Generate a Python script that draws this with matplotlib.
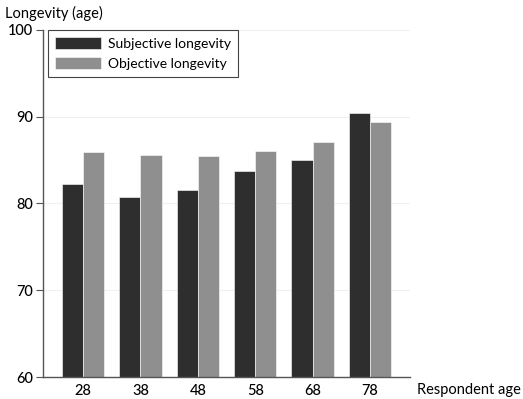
import matplotlib
matplotlib.use("Agg")
import matplotlib.pyplot as plt
import numpy as np

ages = ["28", "38", "48", "58", "68", "78"]
subjective = [82.2, 80.7, 81.6, 83.7, 85.0, 90.4]
objective = [85.9, 85.6, 85.5, 86.0, 87.1, 89.4]

DARK = "#2e2e2e"
LIGHT = "#8f8f8f"
AXIS = "#555555"

plt.rcParams["font.family"] = ["Lato", "DejaVu Sans"]

fig = plt.figure(figsize=(5.23, 3.99), dpi=100)
ax = fig.add_axes([0.082, 0.055, 0.702, 0.870])

x = np.arange(len(ages))
w = 0.37
ax.bar(x - w / 2, subjective, width=w, color=DARK, edgecolor="white",
       linewidth=0.4, label="Subjective longevity", zorder=2)
ax.bar(x + w / 2, objective, width=w, color=LIGHT, edgecolor="white",
       linewidth=0.4, label="Objective longevity", zorder=2)

ax.set_xlim(-0.7, 5.7)
ax.set_ylim(60, 100)
ax.set_yticks([60, 70, 80, 90, 100])
ax.set_xticks(x)
ax.set_xticklabels(ages)
ax.grid(axis="y", color="#f0f0f0", linewidth=0.8, zorder=0)

for side in ("top", "right"):
    ax.spines[side].set_visible(False)
for side in ("left", "bottom"):
    ax.spines[side].set_color(AXIS)
    ax.spines[side].set_linewidth(1.0)

ax.tick_params(axis="y", length=5, width=0.8, color=AXIS, labelsize=10.5, pad=2)
ax.tick_params(axis="x", length=0, labelsize=10.5, pad=5)
for lab in ax.get_xticklabels() + ax.get_yticklabels():
    lab.set_fontweight("medium")

fig.text(0.01, 0.965, "Longevity (age)", fontsize=10.5, ha="left", va="center")
fig.text(0.995, 0.022, "Respondent age", fontsize=10.5, ha="right", va="center")

leg = ax.legend(loc="upper left", bbox_to_anchor=(0.014, 1.0), borderaxespad=0,
                fontsize=10, fancybox=False, framealpha=1, edgecolor="#444444",
                handlelength=3.3, handleheight=0.95, borderpad=0.5,
                labelspacing=0.55, handletextpad=0.5)
leg.get_frame().set_linewidth(0.8)

fig.savefig("out.png", dpi=100)
